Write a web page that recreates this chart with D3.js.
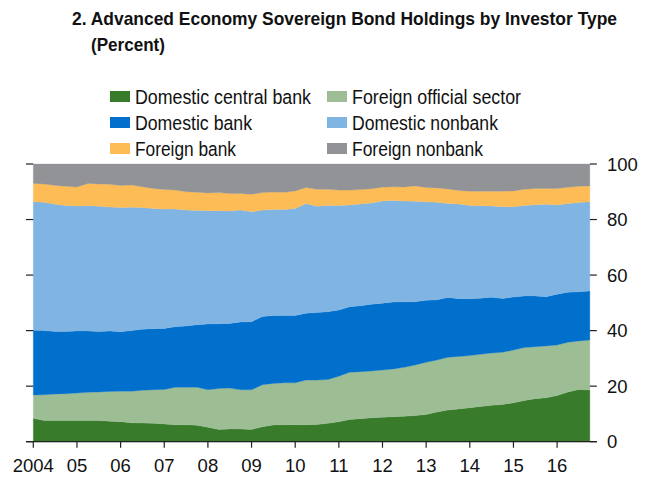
<!DOCTYPE html>
<html><head><meta charset="utf-8">
<script src="https://cdn.jsdelivr.net/npm/d3@7"></script>
<style>
body{margin:0;background:#fff;}
text{font-family:"Liberation Sans Narrow","Arial Narrow","Liberation Sans",sans-serif;fill:#111;}
</style></head><body>
<svg id="c" width="652" height="479"></svg>
<script>
const startYear = 2004;
const quartersPerYear = 4;
const domesticCentralBank = [8.4,7.6,7.6,7.6,7.6,7.6,7.6,7.4,7.2,6.8,6.7,6.6,6.4,6.1,6.1,5.9,5.2,4.4,4.6,4.6,4.4,5.4,6.0,6.1,6.1,6.1,6.2,6.6,7.2,8.0,8.3,8.6,8.8,9.0,9.2,9.4,9.8,10.7,11.4,11.8,12.2,12.7,13.1,13.4,14.0,14.8,15.5,15.8,16.6,17.9,18.8,18.6];
const foreignOfficial = [8.4,9.3,9.6,9.7,9.9,10.2,10.3,10.7,11.0,11.4,11.8,12.1,12.4,13.5,13.5,13.7,13.5,14.8,14.7,14.1,14.3,15.1,15.0,15.1,15.1,16.1,16.0,15.8,16.4,17.0,16.9,16.9,17.0,17.2,17.6,18.2,18.8,18.7,19.0,18.9,18.8,18.8,18.8,18.8,19.0,19.1,18.7,18.7,18.2,17.9,17.5,18.0];
const domesticBank = [23.3,23.1,22.5,22.4,22.4,22.1,21.8,21.8,21.4,21.8,22.0,22.0,22.0,21.8,22.1,22.5,23.7,23.3,23.3,24.4,24.5,24.6,24.4,24.2,24.2,24.1,24.3,24.4,23.8,23.6,23.8,24.0,24.1,24.1,23.6,22.8,22.3,21.7,21.5,20.8,20.5,20.2,20.1,19.4,19.1,18.6,18.3,17.7,18.3,18.0,17.7,17.7];
const domesticNonbank = [46.3,46.2,45.8,45.4,45.0,45.1,45.1,44.6,44.7,44.4,43.8,43.3,43.0,42.4,41.7,41.2,40.8,40.7,40.5,40.3,39.6,38.3,38.2,38.2,38.6,39.5,38.3,38.3,37.7,36.6,36.6,36.5,36.8,36.6,36.3,36.2,35.5,35.1,33.9,34.1,33.6,33.3,32.9,33.0,32.5,32.6,32.8,33.3,32.1,32.0,32.1,32.1];
const foreignBank = [6.6,6.6,6.8,6.9,6.8,8.0,8.0,8.2,8.0,8.0,7.5,7.2,7.0,6.8,6.6,6.5,6.4,6.5,6.3,6.0,6.3,6.3,6.3,6.2,6.3,5.7,6.1,5.8,5.5,5.4,5.2,5.1,4.9,4.9,5.0,5.5,5.1,5.2,5.2,4.9,5.1,5.2,5.3,5.6,5.7,5.8,5.9,5.7,6.0,5.8,5.9,5.7];
const foreignNonbank = [7.0,7.2,7.7,8.0,8.3,7.0,7.2,7.3,7.7,7.6,8.2,8.8,9.2,9.4,10.0,10.2,10.4,10.3,10.6,10.6,10.9,10.3,10.1,10.2,9.7,8.5,9.1,9.1,9.4,9.4,9.2,8.9,8.4,8.2,8.3,7.9,8.5,8.6,9.0,9.5,9.8,9.8,9.8,9.8,9.7,9.1,8.8,8.8,8.8,8.4,8.0,7.9];

const seriesNames = ["Domestic central bank","Foreign official sector","Domestic bank","Domestic nonbank","Foreign bank","Foreign nonbank"];
const seriesColors = ["#387b2b","#9dbd95","#0070cc","#80b5e3","#fdbc56","#929396"];
const yearTicks = [2004,2005,2006,2007,2008,2009,2010,2011,2012,2013,2014,2015,2016];
const yearLabels = ["2004","05","06","07","08","09","10","11","12","13","14","15","16"];
const yTicks = [0,20,40,60,80,100];

const seriesData = [domesticCentralBank,foreignOfficial,domesticBank,domesticNonbank,foreignBank,foreignNonbank];
const keys = seriesNames;
const rows = domesticCentralBank.map((_,i)=>{
  const r = {t: startYear + i/quartersPerYear};
  keys.forEach((k,j)=>r[k]=seriesData[j][i]);
  return r;
});

const svg = d3.select("#c");
const x = d3.scaleLinear().domain([2004,2017]).range([33.3, 33.3+13*43.65]);
const y = d3.scaleLinear().domain([0,100]).range([441.7,164]);

const stack = d3.stack().keys(keys);
const layers = stack(rows);
const area = d3.area().x(d=>x(d.data.t)).y0(d=>y(d[0])).y1(d=>y(d[1]));
svg.append("g").selectAll("path").data(layers).join("path")
  .attr("d",area).attr("fill",(d,i)=>seriesColors[i]).attr("stroke",(d,i)=>seriesColors[i]).attr("stroke-width",0.3);

// axes
const axColor = "#222";
const xEnd = x(rows[rows.length-1].t);
svg.append("line").attr("x1",26).attr("x2",xEnd+7).attr("y1",y(0)).attr("y2",y(0)).attr("stroke",axColor).attr("stroke-width",1.2);
const gy = svg.append("g");
yTicks.forEach(v=>{
  gy.append("line").attr("x1",26).attr("x2",33.3).attr("y1",y(v)).attr("y2",y(v)).attr("stroke",axColor).attr("stroke-width",1.2);
  gy.append("line").attr("x1",xEnd).attr("x2",xEnd+7).attr("y1",y(v)).attr("y2",y(v)).attr("stroke",axColor).attr("stroke-width",1.2);
  gy.append("text").attr("x",607).attr("y",y(v)).attr("dy","0.36em").attr("font-size",18.5).text(v);
});
const gx = svg.append("g");
yearTicks.forEach((yr,i)=>{
  gx.append("line").attr("x1",x(yr)).attr("x2",x(yr)).attr("y1",y(0)).attr("y2",y(0)+6).attr("stroke",axColor).attr("stroke-width",1.2);
  gx.append("text").attr("x",x(yr)).attr("y",472).attr("text-anchor","middle").attr("font-size",18.5).text(yearLabels[i]);
});

// title
svg.append("text").attr("transform","translate(72,25) scale(1,1.15)").attr("font-size",16.5).attr("font-weight","bold")
  .attr("textLength",545).attr("lengthAdjust","spacingAndGlyphs")
  .text("2. Advanced Economy Sovereign Bond Holdings by Investor Type");
svg.append("text").attr("transform","translate(91,51) scale(1,1.15)").attr("font-size",16.5).attr("font-weight","bold")
  .attr("textLength",74).attr("lengthAdjust","spacingAndGlyphs").text("(Percent)");

// legend
const legendX = [110,327], legendY = [96,122,148];
const legendWidths = [176,169,117,146,101,131];
seriesNames.forEach((n,i)=>{
  const col = i%2, row = Math.floor(i/2);
  const g = svg.append("g").attr("transform",`translate(${legendX[col]},${legendY[row]})`);
  g.append("rect").attr("x",0).attr("y",-5).attr("width",20).attr("height",11).attr("fill",seriesColors[i]);
  g.append("text").attr("x",25).attr("y",0).attr("dy","0.37em").attr("font-size",20.5)
    .attr("textLength",legendWidths[i]).attr("lengthAdjust","spacingAndGlyphs").text(n);
});
</script></body></html>
